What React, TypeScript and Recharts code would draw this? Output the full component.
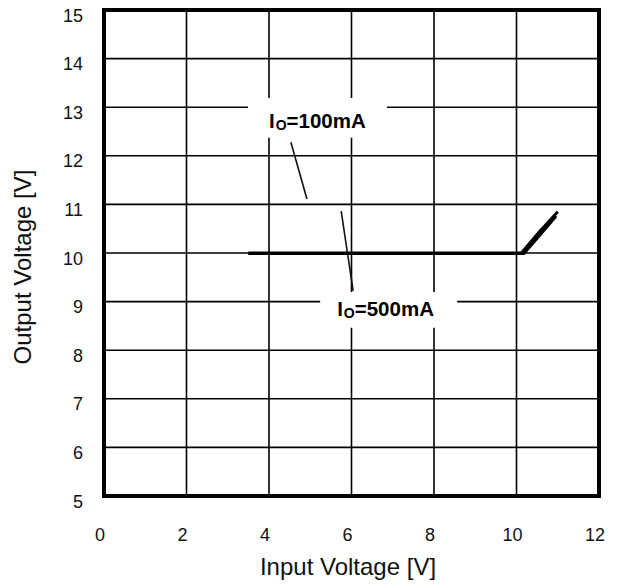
import React from 'react';
import { LineChart, Line, XAxis, YAxis, CartesianGrid, ReferenceArea, ReferenceLine } from 'recharts';

const FONT = '"Liberation Sans", Arial, sans-serif';

// axes
const xTicks = [0, 2, 4, 6, 8, 10, 12];
const yTicks = [5, 6, 7, 8, 9, 10, 11, 12, 13, 14, 15];

// Io = 100mA
const vin100 = [3.5, 10.12, 10.55, 11.0];
const vout100 = [10, 10, 10.43, 10.85];
// Io = 500mA
const vin500 = [3.5, 10.18, 10.6, 10.96];
const vout500 = [9.99, 9.99, 10.4, 10.76];

// annotation labels
const labelCurrents = ['100mA', '500mA'];
const labelBoxX = [[3.49, 6.86], [5.24, 8.56]];
const labelBoxY = [[12.37, 13.19], [8.46, 9.2]];
const pointerFrom = [[4.53, 12.28], [5.75, 10.86]];
const pointerTo = [[4.92, 11.11], [6.04, 9.22]];

const series100 = vin100.map((v, i) => ({ vin: v, vout: vout100[i] }));
const series500 = vin500.map((v, i) => ({ vin: v, vout: vout500[i] }));

const XTick = (props: any) => {
  const { x, y, payload } = props;
  return (
    <text x={x - 4} y={y + 44.5} textAnchor="middle" fontSize={18} fontFamily={FONT} fill="#111">
      {payload.value}
    </text>
  );
};

const YTick = (props: any) => {
  const { x, y, payload } = props;
  return (
    <text x={x - 21} y={y + 11.5} textAnchor="end" fontSize={18} fontFamily={FONT} fill="#111">
      {payload.value}
    </text>
  );
};

const XTitle = (props: any) => {
  const { viewBox } = props;
  return (
    <text x={348} y={viewBox.y + 79} textAnchor="middle" fontSize={24} fontFamily={FONT} fill="#111">
      Input Voltage [V]
    </text>
  );
};

const YTitle = () => {
  const cx = 31;
  const cy = 267;
  return (
    <text
      x={cx}
      y={cy}
      transform={`rotate(-90, ${cx}, ${cy})`}
      textAnchor="middle"
      fontSize={24}
      fontFamily={FONT}
      fill="#111"
    >
      Output Voltage [V]
    </text>
  );
};

const BoxLabel = (props: any) => {
  const { viewBox, current, dx, dy } = props;
  return (
    <text x={viewBox.x + dx} y={viewBox.y + dy} fontSize={20.5} fontWeight="bold" fontFamily={FONT} fill="#000">
      <tspan>I</tspan>
      <tspan fontSize={14} dx={1} dy={2}>O</tspan>
      <tspan dy={-2}>={current}</tspan>
    </text>
  );
};

const labelOffsets = [
  { dx: 21, dy: 30 },
  { dx: 17, dy: 24 },
];

export default function App() {
  return (
    <div style={{ position: 'absolute', left: 0, top: 0, background: '#fff' }}>
      <LineChart width={619} height={588} margin={{ top: 10, right: 20, bottom: 0, left: 0 }}>
        <CartesianGrid stroke="#000" strokeWidth={1.6} />
        <XAxis
          type="number"
          dataKey="vin"
          domain={[0, 12]}
          ticks={xTicks}
          axisLine={false}
          tickLine={false}
          tickSize={0}
          tickMargin={0}
          height={92}
          tick={<XTick />}
          label={<XTitle />}
          allowDataOverflow
        />
        <YAxis
          type="number"
          dataKey="vout"
          domain={[5, 15]}
          ticks={yTicks}
          axisLine={false}
          tickLine={false}
          tickSize={0}
          tickMargin={0}
          width={104}
          tick={<YTick />}
          label={<YTitle />}
          allowDataOverflow
        />
        {labelCurrents.map((c, i) => (
          <ReferenceArea
            key={'box' + c}
            x1={labelBoxX[i][0]}
            x2={labelBoxX[i][1]}
            y1={labelBoxY[i][0]}
            y2={labelBoxY[i][1]}
            fill="#fff"
            fillOpacity={1}
            stroke="none"
            label={<BoxLabel current={c} dx={labelOffsets[i].dx} dy={labelOffsets[i].dy} />}
          />
        ))}
        {labelCurrents.map((c, i) => (
          <ReferenceLine
            key={'ptr' + c}
            segment={[
              { x: pointerFrom[i][0], y: pointerFrom[i][1] },
              { x: pointerTo[i][0], y: pointerTo[i][1] },
            ]}
            stroke="#111"
            strokeWidth={1.6}
          />
        ))}
        <ReferenceArea x1={0} x2={12} y1={5} y2={15} fill="none" stroke="#000" strokeWidth={4} />
        <Line
          data={series100}
          dataKey="vout"
          type="linear"
          stroke="#000"
          strokeWidth={3}
          dot={false}
          isAnimationActive={false}
        />
        <Line
          data={series500}
          dataKey="vout"
          type="linear"
          stroke="#000"
          strokeWidth={3}
          dot={false}
          isAnimationActive={false}
        />
      </LineChart>
    </div>
  );
}
